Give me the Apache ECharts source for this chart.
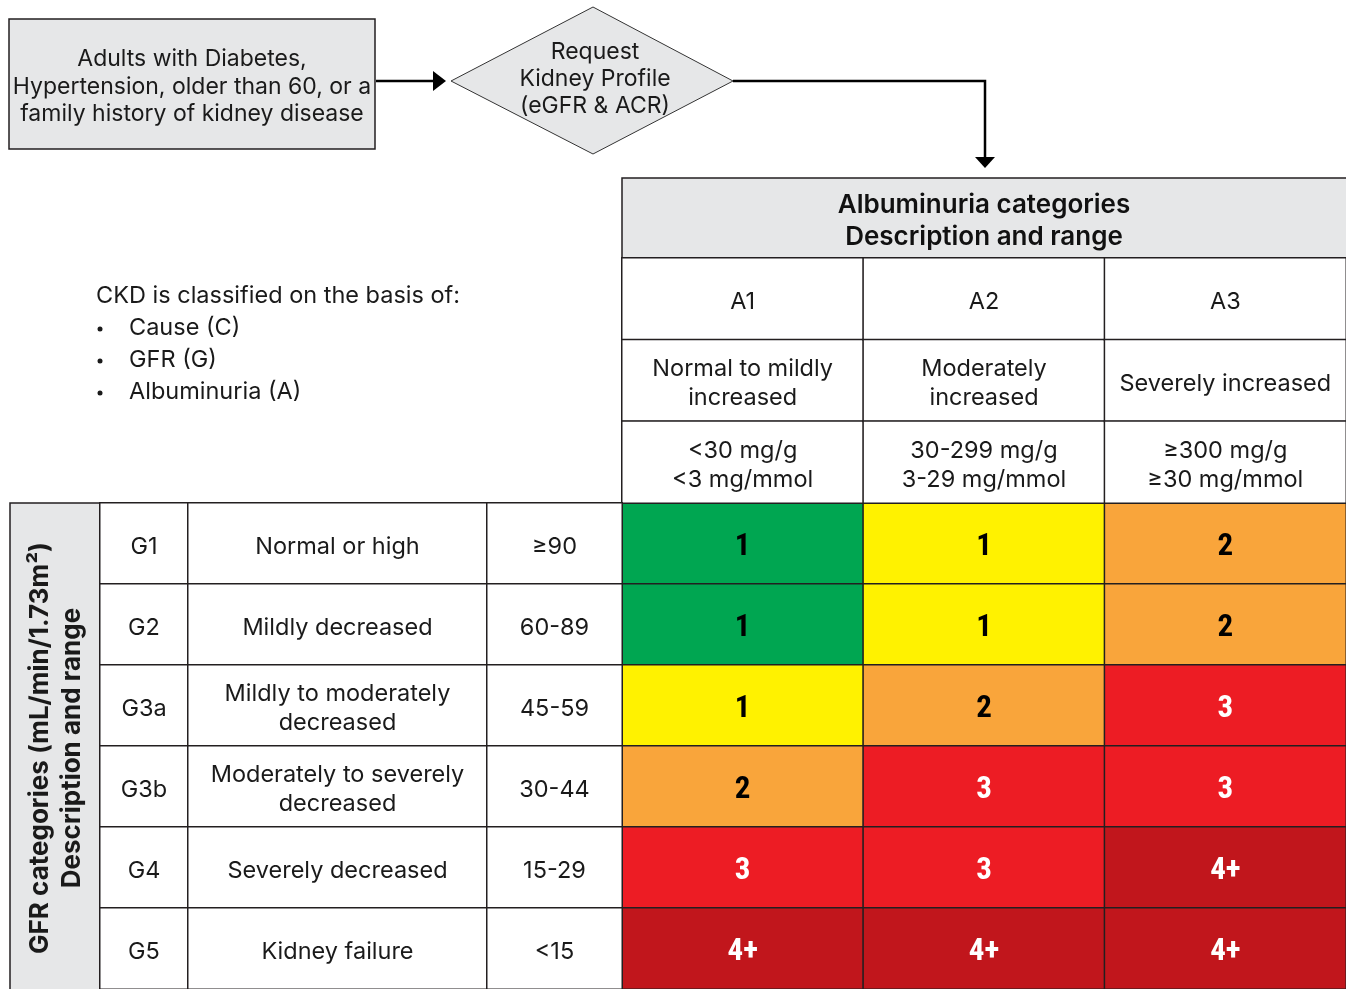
<!DOCTYPE html>
<html>
<head>
<meta charset="utf-8">
<script src="https://cdn.jsdelivr.net/npm/echarts@6/dist/echarts.min.js"></script>
<style>
html,body{margin:0;padding:0;background:#fff;}
#chart{width:1346px;height:989px;}
</style>
</head>
<body>
<div id="chart"></div>
<script>
// ---- data ----
var albCodes = ['A1', 'A2', 'A3'];
var albDesc = ['Normal to mildly\nincreased', 'Moderately\nincreased', 'Severely increased'];
var albRange = ['<30 mg/g\n<3 mg/mmol', '30-299 mg/g\n3-29 mg/mmol', '\u2265300 mg/g\n\u226530 mg/mmol'];
var headerRows = ['code', 'desc', 'range'];

var gfrCodes = ['G1', 'G2', 'G3a', 'G3b', 'G4', 'G5'];
var gfrDesc = ['Normal or high', 'Mildly decreased', 'Mildly to moderately\ndecreased',
  'Moderately to severely\ndecreased', 'Severely decreased', 'Kidney failure'];
var gfrRange = ['\u226590', '60-89', '45-59', '30-44', '15-29', '<15'];

// risk label shown in each cell (rows G1..G5, cols A1..A3)
var riskLabels = [
  ['1', '1', '2'],
  ['1', '1', '2'],
  ['1', '2', '3'],
  ['2', '3', '3'],
  ['3', '3', '4+'],
  ['4+', '4+', '4+']
];
// colour level of each cell (1 green, 2 yellow, 3 orange, 4 red, 5 dark red)
var riskLevels = [
  [1, 2, 3],
  [1, 2, 3],
  [2, 3, 4],
  [3, 4, 4],
  [4, 4, 5],
  [5, 5, 5]
];

var introTitle = 'CKD is classified on the basis of:';
var introItems = ['Cause (C)', 'GFR (G)', 'Albuminuria (A)'];
var flowBox = 'Adults with Diabetes,\nHypertension, older than 60, or a\nfamily history of kidney disease';
var flowDiamond = 'Request\nKidney Profile\n(eGFR & ACR)';
var albHeader = 'Albuminuria categories\nDescription and range';
var gfrHeader = 'GFR categories (mL/min/1.73m\u00b2)\nDescription and range';

// ---- style ----
var FONT = 'Inter, Roboto, sans-serif';
var FS = 23.5;
var NUMFONT = '"Liberation Sans Narrow", "Roboto Condensed", "DejaVu Sans Condensed", Roboto, sans-serif';
var LINE = '#231f20';
var GRAY = '#e6e7e8';
var levelColors = ['#00a651', '#fff200', '#f9a53b', '#ed1c24', '#c1161c'];

var chart = echarts.init(document.getElementById('chart'), null, {renderer: 'canvas'});

var riskData = [];
for (var r = 0; r < gfrCodes.length; r++) {
  for (var c = 0; c < albCodes.length; c++) {
    riskData.push({
      value: [c, r, riskLevels[r][c]],
      label: {color: riskLevels[r][c] >= 4 ? '#ffffff' : '#000000'}
    });
  }
}
var headerData = [];
for (var c2 = 0; c2 < albCodes.length; c2++) {
  for (var h = 0; h < headerRows.length; h++) headerData.push([c2, h, 0]);
}
function colData() {
  var d = [];
  for (var i = 0; i < gfrCodes.length; i++) d.push([0, i, 0]);
  return d;
}

var gridTop = 503, rowH = 81.5, gridH = rowH * 6;
var grids = [
  {left: 622, top: gridTop, width: 724, height: gridH},   // risk
  {left: 622, top: 258, width: 724, height: 245},          // alb header
  {left: 100, top: gridTop, width: 88, height: gridH},     // G codes
  {left: 188, top: gridTop, width: 299, height: gridH},    // G desc
  {left: 487, top: gridTop, width: 135, height: gridH}     // G range
];
var xAxes = [
  {type: 'category', data: albCodes},
  {type: 'category', data: albCodes},
  {type: 'category', data: ['code']},
  {type: 'category', data: ['desc']},
  {type: 'category', data: ['range']}
].map(function (a, i) { a.gridIndex = i; a.show = false; return a; });
var yAxes = [
  {type: 'category', data: gfrCodes},
  {type: 'category', data: headerRows},
  {type: 'category', data: gfrCodes},
  {type: 'category', data: gfrCodes},
  {type: 'category', data: gfrCodes}
].map(function (a, i) { a.gridIndex = i; a.show = false; a.inverse = true; return a; });

var whiteCell = {color: '#ffffff', borderColor: LINE, borderWidth: 1.5};
var textLabel = {show: true, fontFamily: FONT, fontSize: FS, color: '#1a1a1a', lineHeight: 29, offset: [0, 3]};

function gLabel(arr) {
  return Object.assign({}, textLabel, {formatter: function (p) { return arr[p.value[1]]; }});
}

var option = {
  animation: false,
  grid: grids,
  xAxis: xAxes,
  yAxis: yAxes,
  visualMap: {
    type: 'piecewise', show: false, seriesIndex: 0, dimension: 2,
    pieces: levelColors.map(function (col, i) { return {value: i + 1, color: col}; })
  },
  series: [
    {
      type: 'heatmap', xAxisIndex: 0, yAxisIndex: 0, data: riskData,
      itemStyle: {borderColor: LINE, borderWidth: 1.5},
      label: {
        show: true, fontFamily: NUMFONT, fontWeight: 'bold', fontSize: 31, offset: [0, 4],
        formatter: function (p) { return riskLabels[p.value[1]][p.value[0]]; }
      },
      emphasis: {disabled: true}
    },
    {
      type: 'heatmap', xAxisIndex: 1, yAxisIndex: 1, data: headerData,
      itemStyle: whiteCell,
      label: Object.assign({}, textLabel, {
        formatter: function (p) {
          var c = p.value[0], rr = p.value[1];
          return rr === 0 ? albCodes[c] : (rr === 1 ? albDesc[c] : albRange[c]);
        }
      }),
      emphasis: {disabled: true}
    },
    {type: 'heatmap', xAxisIndex: 2, yAxisIndex: 2, data: colData(), itemStyle: whiteCell, label: gLabel(gfrCodes), emphasis: {disabled: true}},
    {type: 'heatmap', xAxisIndex: 3, yAxisIndex: 3, data: colData(), itemStyle: whiteCell, label: gLabel(gfrDesc), emphasis: {disabled: true}},
    {type: 'heatmap', xAxisIndex: 4, yAxisIndex: 4, data: colData(), itemStyle: whiteCell, label: gLabel(gfrRange), emphasis: {disabled: true}}
  ],
  graphic: [
    // left gray vertical header
    {type: 'rect', shape: {x: 10, y: 503, width: 90, height: 492}, style: {fill: GRAY, stroke: LINE, lineWidth: 1.5}, z: 1},
    {type: 'text', x: 56, y: 748, rotation: Math.PI / 2,
      style: {text: gfrHeader, fontFamily: FONT, fontWeight: 'bold', fontSize: 26, lineHeight: 32, align: 'center', verticalAlign: 'middle', fill: '#1a1a1a'}, z: 2},
    // albuminuria gray header
    {type: 'rect', shape: {x: 622, y: 178, width: 730, height: 80}, style: {fill: GRAY, stroke: LINE, lineWidth: 1.5}, z: 1},
    {type: 'text', x: 984, y: 221,
      style: {text: albHeader, fontFamily: FONT, fontWeight: 600, fontSize: 26, lineHeight: 32, align: 'center', verticalAlign: 'middle', fill: '#111'}, z: 2},
    // intro text
    {type: 'text', x: 96, y: 296, style: {text: introTitle, fontFamily: FONT, fontSize: FS, align: 'left', verticalAlign: 'middle', fill: '#1a1a1a'}},
    {type: 'group', children: introItems.map(function (t, i) {
      return {type: 'group', children: [
        {type: 'circle', shape: {cx: 100, cy: 329 + i * 32, r: 2.5}, style: {fill: '#1a1a1a'}},
        {type: 'text', x: 129, y: 328 + i * 32, style: {text: t, fontFamily: FONT, fontSize: FS, align: 'left', verticalAlign: 'middle', fill: '#1a1a1a'}}
      ]};
    })},
    // flow box
    {type: 'rect', shape: {x: 9, y: 19, width: 366, height: 130}, style: {fill: GRAY, stroke: LINE, lineWidth: 1.5}},
    {type: 'text', x: 192, y: 87, style: {text: flowBox, fontFamily: FONT, fontSize: 23, lineHeight: 27.5, align: 'center', verticalAlign: 'middle', fill: '#1a1a1a'}},
    {type: 'line', shape: {x1: 376, y1: 81, x2: 436, y2: 81}, style: {stroke: '#000', lineWidth: 2.5}},
    {type: 'polygon', shape: {points: [[433, 71], [446, 81], [433, 91]]}, style: {fill: '#000'}},
    // diamond
    {type: 'polygon', shape: {points: [[451, 81], [593, 7], [733, 81], [593, 154]]}, style: {fill: GRAY, stroke: '#333', lineWidth: 1}},
    {type: 'text', x: 595, y: 79, style: {text: flowDiamond, fontFamily: FONT, fontSize: 23, lineHeight: 27, align: 'center', verticalAlign: 'middle', fill: '#1a1a1a'}},
    {type: 'polyline', shape: {points: [[733, 81], [985, 81], [985, 159]]}, style: {stroke: '#000', lineWidth: 2.5, fill: null}},
    {type: 'polygon', shape: {points: [[975, 157], [995, 157], [985, 168]]}, style: {fill: '#000'}}
  ]
};
chart.setOption(option);
</script>
</body>
</html>
